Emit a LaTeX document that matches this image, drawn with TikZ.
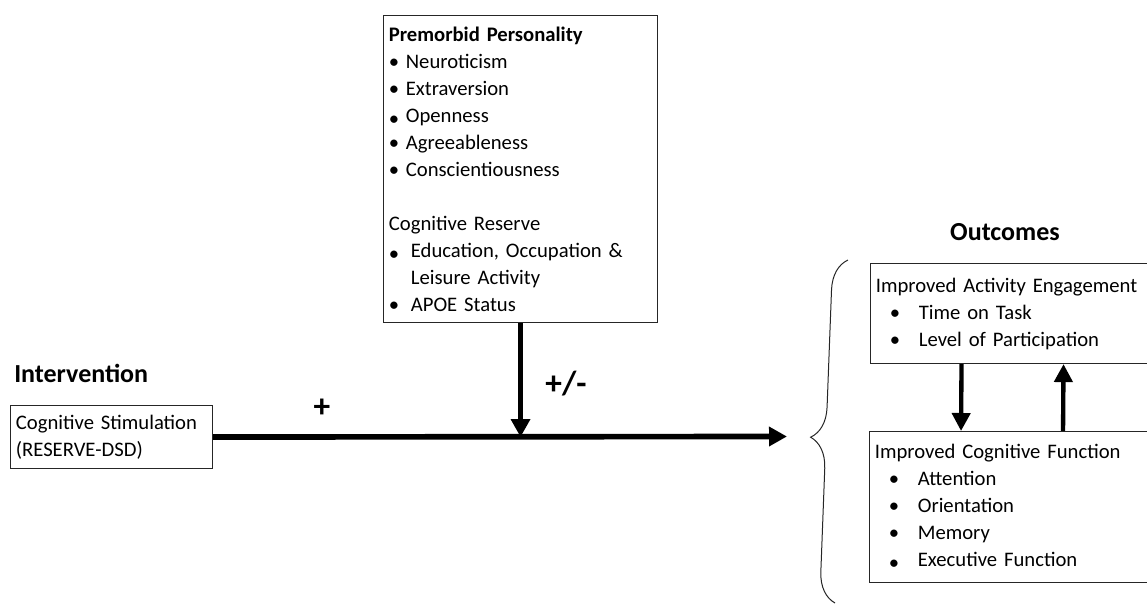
\documentclass[tikz,border=0pt]{standalone}
\usepackage{fontspec}
\setmainfont{Carlito}
\usepackage{tikz}
\usetikzlibrary{positioning}
\usetikzlibrary{arrows.meta}
\usetikzlibrary{decorations.pathreplacing}

\newcommand{\pitem}[2][12.75pt]{\makebox[#1][l]{\textbullet}#2}
\newcommand{\plow}[2][12.75pt]{\makebox[#1][l]{\raisebox{-2.5pt}{\textbullet}}#2}
\newcommand{\oitem}[1]{\hspace*{10.5pt}\makebox[21.75pt][l]{\textbullet}#1}
\newcommand{\olow}[1]{\hspace*{10.5pt}\makebox[21.75pt][l]{\raisebox{-2.5pt}{\textbullet}}#1}

\begin{document}
\begin{tikzpicture}[x=0.75pt, y=-0.75pt,
    every node/.style={align=left, font=\fontsize{15.5}{20.25}\selectfont},
    box/.style={draw=black!85, line width=0.8pt, anchor=north west, inner xsep=4pt, inner ysep=0pt},
    title/.style={inner sep=0pt, font=\fontsize{19.5}{23}\selectfont\bfseries},
    sign/.style={inner sep=0pt, font=\fontsize{25}{28}\selectfont\bfseries},
    thickarrow/.style={line width=4.25pt, -{Triangle[length=13.5pt,width=14pt]}},
    linkarrow/.style={line width=3.25pt, -{Triangle[length=13.5pt,width=13.5pt]}}]
    \useasboundingbox (0, 0) rectangle (1147, 605);

    \node (premorbid)[box, text width=197.5pt, minimum height=230.25pt] at (383, 15) {\textbf{Premorbid Personality}\\
        \pitem{Neuroticism}\\
        \pitem{Extraversion}\\
        \plow{Openness}\\
        \pitem{Agreeableness}\\
        \pitem{Conscientiousness}\\[20.25pt]
        Cognitive Reserve\\
        \plow[16.5pt]{Education, Occupation \&}\\
        \hspace*{16.5pt}Leisure Activity\\
        \pitem[16.5pt]{APOE Status}};
    \node (stim)[box, text width=143.5pt, minimum height=47.25pt] at (10, 405) {Cognitive Stimulation\\(RESERVE-DSD)};
    \node (act)[box, text width=202pt, minimum height=75pt] at (870, 263) {Improved Activity Engagement\\
        \oitem{Time on Task}\\
        \oitem{Level of Participation}};
    \node (cogfun)[box, text width=202.75pt, minimum height=113.25pt] at (869, 431) {Improved Cognitive Function\\
        \oitem{Attention}\\
        \oitem{Orientation}\\
        \oitem{Memory}\\
        \olow{Executive Function}};

    \node (intervention)[title, anchor=west] at (14, 373) {Intervention};
    \node (outcomes)[title] at (1005, 232) {Outcomes};
    \node (plus)[sign] at (322, 408) {+};
    \node (plusminus)[sign] at (566, 384) {+/-};

    \coordinate (junction) at (premorbid.south |- stim.east);
    \coordinate (target) at (787, 436.5);
    \coordinate (bracelow) at (835, 603);
    \coordinate (bracehigh) at (848, 260);

    \path [thickarrow] (stim.east) edge (target);
    \path [thickarrow] (premorbid) edge (junction);
    \path [linkarrow] ([xshift=-36.75pt]act.south) edge ([xshift=-36.75pt]cogfun.north);
    \path [linkarrow] ([xshift=39.75pt]cogfun.north) edge ([xshift=39.75pt]act.south);

    \draw [black!85, line width=0.75pt, decorate, decoration={brace, amplitude=23pt, aspect=0.48}] (bracelow) -- (bracehigh);
\end{tikzpicture}
\end{document}
